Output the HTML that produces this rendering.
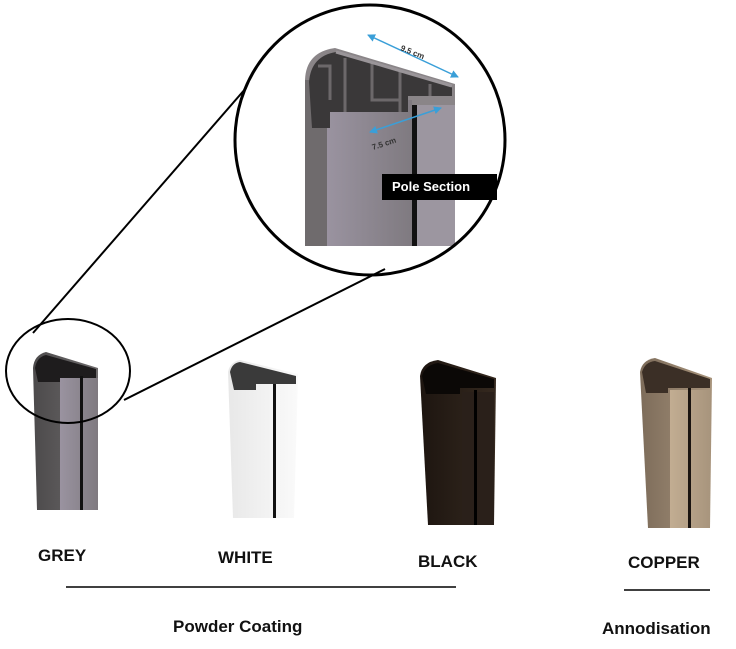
<!DOCTYPE html>
<html><head><meta charset="utf-8"><style>
html,body{margin:0;padding:0;background:#fff;}
svg{display:block;}
text{font-family:"Liberation Sans",Arial,sans-serif;font-weight:bold;}
</style></head><body>
<svg width="736" height="649" viewBox="0 0 736 649" xmlns="http://www.w3.org/2000/svg">
<defs>
<linearGradient id="gL" x1="0" x2="1"><stop offset="0" stop-color="#4c4a4b"/><stop offset="1" stop-color="#6e6b6c"/></linearGradient>
<linearGradient id="gR" x1="0" x2="1"><stop offset="0" stop-color="#9a93a0"/><stop offset="1" stop-color="#7f7a80"/></linearGradient>
<linearGradient id="wL" x1="0" x2="1"><stop offset="0" stop-color="#e8e8e8"/><stop offset="1" stop-color="#fafafa"/></linearGradient>
<linearGradient id="bL" x1="0" x2="1"><stop offset="0" stop-color="#1d1510"/><stop offset="1" stop-color="#35291f"/></linearGradient>
<linearGradient id="cL" x1="0" x2="1"><stop offset="0" stop-color="#7d6c5a"/><stop offset="1" stop-color="#a8947c"/></linearGradient>
<linearGradient id="cR" x1="0" x2="1"><stop offset="0" stop-color="#c2ad92"/><stop offset="1" stop-color="#a8957d"/></linearGradient>
<marker id="ar" markerWidth="8" markerHeight="8" refX="7" refY="4" orient="auto-start-reverse" markerUnits="userSpaceOnUse"><path d="M0 0 L8 4 L0 8 Z" fill="#3a9fd8"/></marker>
</defs>

<!-- big circle pole -->
<g>
<path d="M305 80 Q306 52 335 48 L455 84 L455 246 L312 246 Z" fill="#8a8588"/>
<rect x="305" y="80" width="22" height="166" fill="#6f6b6d"/>
<rect x="327" y="100" width="85" height="146" fill="url(#gR)"/>
<rect x="412" y="105" width="43" height="141" fill="#9c96a0"/>
<path d="M309 82 Q311 56 336 52 L452 87 L452 96 L408 96 L408 112 L330 112 L330 128 L312 128 Z" fill="#3a3839"/>
<path d="M318 66 L330 66 L330 100 M345 58 L345 112 M372 62 L372 100 L400 100 M400 72 L400 112 M430 84 L430 96" stroke="#6c686a" stroke-width="3" fill="none"/>
<rect x="412" y="105" width="5" height="141" fill="#111"/>
<path d="M336 52 L452 86" stroke="#9a9599" stroke-width="3" fill="none"/>
<line x1="368" y1="35" x2="458" y2="77" stroke="#3a9fd8" stroke-width="1.5" marker-start="url(#ar)" marker-end="url(#ar)"/>
<line x1="370" y1="132" x2="441" y2="108" stroke="#3a9fd8" stroke-width="1.5" marker-start="url(#ar)" marker-end="url(#ar)"/>
<text x="400" y="50" font-size="8" font-weight="normal" fill="#333" transform="rotate(22 400 50)">9.5 cm</text>
<text x="373" y="150" font-size="8" font-weight="normal" fill="#333" transform="rotate(-18 373 150)">7.5 cm</text>
<rect x="382" y="174" width="115" height="26" fill="#000"/>
<text x="392" y="191" font-size="13" fill="#fff">Pole Section</text>
</g>
<circle cx="370" cy="140" r="135" fill="none" stroke="#000" stroke-width="3"/>
<line x1="33" y1="333" x2="246" y2="88" stroke="#000" stroke-width="2"/>
<line x1="124" y1="400" x2="385" y2="269" stroke="#000" stroke-width="2"/>

<!-- grey -->
<path d="M33 368 Q34 355 46 352 L98 368 L98 510 L37 510 Z" fill="url(#gL)"/>
<rect x="60" y="378" width="38" height="132" fill="url(#gR)"/>
<path d="M35 368 Q37 357 46 355 L96 369 L96 378 L60 378 L60 382 L38 382 Z" fill="#1e1c1d"/>
<rect x="80" y="376" width="3" height="134" fill="#111"/>
<ellipse cx="68" cy="371" rx="62" ry="52" fill="none" stroke="#000" stroke-width="2"/>

<!-- white -->
<path d="M228 372 Q230 362 240 360 L298 374 L294 518 L233 518 Z" fill="url(#wL)"/>
<path d="M230 372 Q232 363 240 362 L296 376 L296 384 L256 384 L256 390 L234 390 Z" fill="#3a3a3a"/>
<rect x="273" y="384" width="3" height="134" fill="#111"/>

<!-- black -->
<path d="M420 376 Q422 362 438 360 L496 378 L494 525 L428 525 Z" fill="url(#bL)"/>
<rect x="462" y="392" width="32" height="133" fill="#2a201a"/>
<path d="M422 376 Q425 365 438 363 L494 379 L494 388 L460 388 L460 394 L426 394 Z" fill="#0b0806"/>
<rect x="474" y="390" width="3" height="135" fill="#000"/>

<!-- copper -->
<path d="M640 372 Q642 360 655 358 L712 378 L710 528 L648 528 Z" fill="url(#cL)"/>
<rect x="670" y="390" width="40" height="138" fill="url(#cR)"/>
<path d="M642 372 Q645 362 655 361 L710 379 L710 388 L668 388 L668 393 L646 393 Z" fill="#3b2f26"/>
<rect x="688" y="388" width="3" height="140" fill="#1a1410"/>

<!-- labels -->
<text x="38" y="561" font-size="17" fill="#111">GREY</text>
<text x="218" y="563" font-size="17" fill="#111">WHITE</text>
<text x="418" y="567" font-size="17" fill="#111">BLACK</text>
<text x="628" y="568" font-size="17" fill="#111">COPPER</text>
<line x1="66" y1="587" x2="456" y2="587" stroke="#000" stroke-width="1.5"/>
<line x1="624" y1="590" x2="710" y2="590" stroke="#000" stroke-width="1.5"/>
<text x="173" y="632" font-size="17" fill="#111">Powder Coating</text>
<text x="602" y="634" font-size="17" fill="#111">Annodisation</text>
</svg>
</body></html>
